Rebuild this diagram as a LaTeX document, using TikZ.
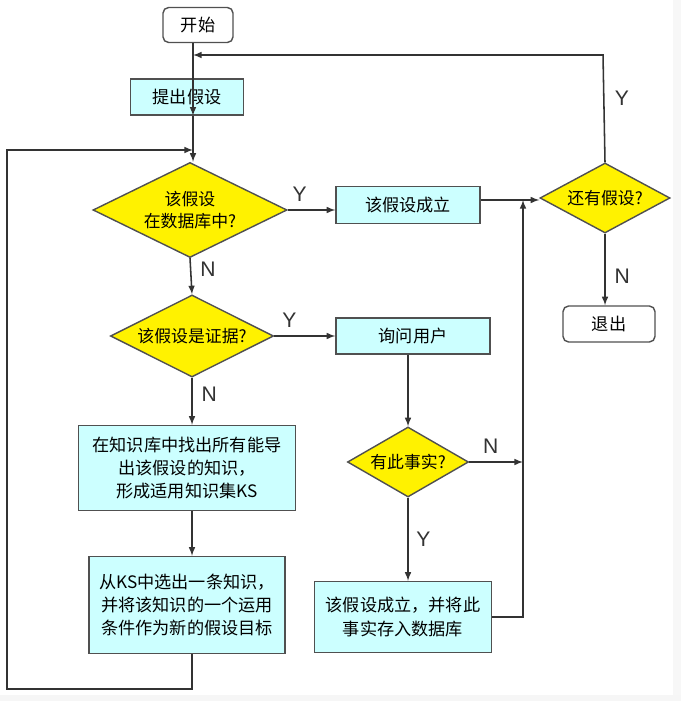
\documentclass[tikz,border=0pt]{standalone}
\usepackage{fontspec}
\setmainfont{Liberation Sans}
\newfontfamily\cjk{Noto Sans CJK SC}
\usetikzlibrary{shapes.geometric}

\definecolor{boxcyan}{RGB}{204,255,255}
\definecolor{edgegray}{RGB}{80,80,80}

\tikzset{
  procbox/.style={draw=edgegray, fill=boxcyan, line width=1pt, inner sep=0pt,
    font=\cjk\fontsize{12.2}{16.5}\selectfont, align=center},
  endbox/.style={procbox, fill=white, rounded corners=4pt},
  ask/.style={draw=edgegray, fill=yellow, line width=1pt, shape=diamond, inner sep=0pt,
    font=\cjk\fontsize{12}{16}\selectfont, align=center},
  yn/.style={font=\fontsize{15}{15}\selectfont, text=black!80},
  flow/.style={draw=black!80, line width=1.1pt}
}

\begin{document}
\begin{tikzpicture}[x=0.025cm, y=-0.025cm, >=latex]

% Page
\useasboundingbox (0,0) rectangle (681,701);
\fill[white] (0,0) rectangle (681,701);
\fill[black!3] (673,0) rectangle (681,701);
\fill[cyan!4!black!4] (0,695) rectangle (681,701);

% Nodes
\node[endbox, minimum width=1.75cm, minimum height=0.875cm] (start) at (198,25) {开始};
\node[procbox, minimum width=2.825cm, minimum height=0.9cm] (pose) at (187,97) {提出假设};
\node[ask, aspect=2.04, minimum width=4.85cm, minimum height=2.375cm] (indb) at (190,210) {该假设\\在数据库中?};
\node[procbox, minimum width=3.6cm, minimum height=0.925cm] (holds) at (408,205) {该假设成立};
\node[ask, aspect=1.86, minimum width=3.25cm, minimum height=1.75cm] (more) at (605,198) {还有假设?};
\node[endbox, minimum width=2.3cm, minimum height=0.9cm] (quit) at (609,324) {退出};
\node[ask, aspect=1.99, minimum width=4.075cm, minimum height=2.05cm] (evid) at (192,336) {该假设是证据?};
\node[procbox, minimum width=3.85cm, minimum height=0.9cm] (askuser) at (413,336) {询问用户};
\node[procbox, minimum width=5.425cm, minimum height=2.125cm] (findks) at (187,468)
  {在知识库中找出所有能导\\出该假设的知识，\\形成适用知识集KS};
\node[procbox, minimum width=4.9cm, minimum height=2.425cm] (pick) at (187,605)
  {从KS中选出一条知识，\\并将该知识的一个运用\\条件作为新的假设目标};
\node[ask, aspect=1.73, minimum width=3.025cm, minimum height=1.75cm] (fact) at (408,462) {有此事实?};
\node[procbox, minimum width=4.425cm, minimum height=1.775cm] (store) at (403,617)
  {该假设成立，并将此\\事实存入数据库};

% Junction points
\coordinate (topin) at (193,55);
\coordinate (leftin) at (193,150);
\coordinate (joinv) at (523,200);

% Main column
\draw[flow, ->] (start.south -| topin) -- (pose.south -| topin |- pose.north);
\draw[flow, ->] (pose.south -| leftin) -- (indb.north -| leftin);
\draw[flow, ->] (indb.south) -- node[yn, right=3pt, pos=0.3] {N} (evid.north);
\draw[flow, ->] (evid.south) -- node[yn, right=3pt, pos=0.35] {N} (findks.north -| evid.south);
\draw[flow, ->] (findks.south -| 192,0) -- (pick.north -| 192,0);

% Yes branches
\draw[flow, ->] (indb.east) -- node[yn, above=2pt, pos=0.25] {Y} (holds.west |- indb.east);
\draw[flow, ->] (evid.east) -- node[yn, above=2pt, pos=0.25] {Y} (askuser.west);
\draw[flow, ->] (holds.east |- joinv) -- (more.west |- joinv);

% User question
\draw[flow, ->] (askuser.south -| fact.north) -- (fact.north);
\draw[flow, ->] (fact.south) -- node[yn, right=2pt, pos=0.5] {Y} (store.north -| fact.south);
\draw[flow, ->] (fact.east) -- node[yn, above=2pt, pos=0.4] {N} (523,462);
\draw[flow, ->] (store.east) -- (523,617) -- (joinv);

% More hypotheses
\draw[flow, ->] (more.south) -- node[yn, right=3pt, pos=0.6] {N} (quit.north -| more.south);
\draw[flow, ->] (more.north) -- node[yn, right=4pt, pos=0.6] {Y} (603,55) -- (topin);

% Loop back from new goal
\draw[flow, ->] (pick.south -| 192,0) -- (192,689) -- (7,689) -- (7,150) -- (leftin);

\end{tikzpicture}
\end{document}
